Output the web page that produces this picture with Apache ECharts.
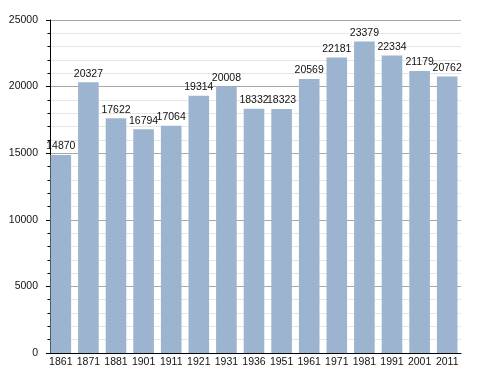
<!DOCTYPE html>
<html><head><meta charset="utf-8">
<script src="https://cdn.jsdelivr.net/npm/echarts@6/dist/echarts.min.js"></script>
<style>html,body{margin:0;padding:0;background:#fff}#c{width:488px;height:373px}</style>
</head><body><div id="c"></div>
<script>
var years = ['1861','1871','1881','1901','1911','1921','1931','1936','1951','1961','1971','1981','1991','2001','2011'];
var population = [14870,20327,17622,16794,17064,19314,20008,18332,18323,20569,22181,23379,22334,21179,20762];
var yTicks = [0,5000,10000,15000,20000,25000];

var chart = echarts.init(document.getElementById('c'), null, {renderer:'canvas'});
chart.setOption({
  animation:false,
  backgroundColor:'#ffffff',
  textStyle:{fontFamily:'Liberation Sans, Arial, sans-serif'},
  grid:{left:47,right:27,top:20,bottom:20,containLabel:false},
  xAxis:{
    type:'category', data:years, boundaryGap:true,
    axisLine:{show:true,lineStyle:{color:'#000',width:1}},
    axisTick:{show:false},
    axisLabel:{color:'#111',fontSize:10.5,margin:4,interval:0,fontFamily:'Liberation Sans, Arial, sans-serif'}
  },
  yAxis:{
    type:'value', min:yTicks[0], max:yTicks[yTicks.length-1], interval:5000, offset:-3,
    axisLine:{show:true,lineStyle:{color:'#000',width:1}},
    axisTick:{show:true,length:4,lineStyle:{color:'#000'}},
    minorTick:{show:true,splitNumber:5,length:2.5,lineStyle:{color:'#000'}},
    splitLine:{show:true,lineStyle:{color:'#a8a8a8',width:1}},
    minorSplitLine:{show:true,lineStyle:{color:'#e6e6e6',width:1}},
    axisLabel:{color:'#111',fontSize:10.5,margin:12,formatter:function(v){return String(v);},fontFamily:'Liberation Sans, Arial, sans-serif'}
  },
  series:[{
    type:'bar', data:population, barWidth:20.6,
    itemStyle:{color:'#9cb4cf'},
    label:{show:true,position:'top',distance:3,color:'#111',fontSize:10.5,fontFamily:'Liberation Sans, Arial, sans-serif'}
  }]
});
</script></body></html>
